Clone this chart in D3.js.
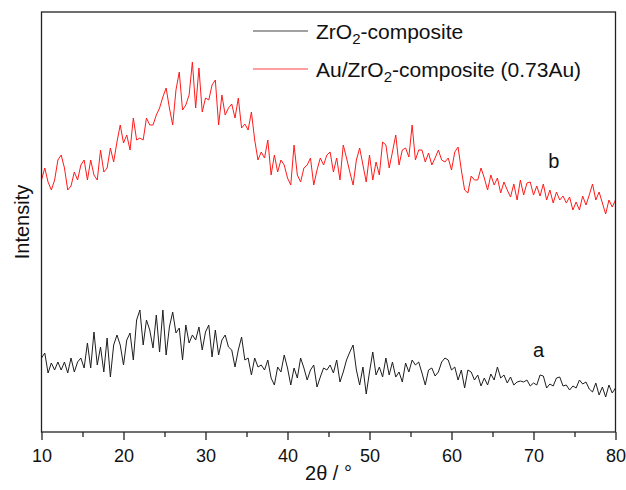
<!DOCTYPE html>
<html>
<head>
<meta charset="utf-8">
<script src="https://cdn.jsdelivr.net/npm/d3@7/dist/d3.min.js"></script>
<style>
  html, body { margin: 0; padding: 0; background: #fff; }
  svg { display: block; font-family: "Liberation Sans", Arial, sans-serif; }
</style>
</head>
<body>
<svg id="chart" width="626" height="490"></svg>
<script>
// XRD patterns, 2θ from 10° to 80° sampled every 0.4°
const thetaStart = 10;
const thetaStep = 0.4;

// a: ZrO2-composite (intensity, a.u., offset baseline)
const zro2Composite = [
  74,79,59,69,62,70,62,70,59,74,
  60,70,74,64,89,64,100,67,85,60,
  94,55,87,97,87,67,92,99,72,112,
  122,87,112,102,84,117,80,122,77,105,
  120,99,104,72,107,89,97,92,105,82,
  100,107,75,102,77,92,97,85,82,65,
  82,95,72,74,57,74,65,67,62,72,
  54,47,65,60,77,64,47,64,54,74,
  64,52,62,67,45,55,64,62,67,59,
  72,50,60,72,80,87,62,47,65,38,
  60,80,57,65,55,74,57,70,55,60,
  50,69,60,72,67,70,59,47,62,64,
  56,60,70,74,72,62,65,52,62,44,
  62,60,52,57,46,54,47,58,52,65,
  54,57,49,55,47,50,51,50,52,46,
  49,47,57,56,44,48,46,54,55,46,
  47,42,46,44,52,48,50,43,40,49,
  37,45,35,47,39,44
];

// b: Au/ZrO2-composite (0.73Au)
const auZro2Composite = [
  252,264,250,242,252,272,277,264,242,246,
  260,252,267,272,252,272,257,252,282,260,
  264,284,270,290,307,289,297,282,314,292,
  294,292,314,307,307,317,324,335,344,324,
  307,342,360,322,327,337,370,324,364,320,
  334,332,347,352,307,337,317,324,328,314,
  334,304,308,302,320,292,272,280,274,292,
  257,277,260,272,267,254,247,287,257,250,
  264,267,274,247,262,274,267,277,280,260,
  274,252,287,274,260,247,272,284,267,250,
  277,252,270,257,290,287,264,280,297,267,
  282,284,275,307,272,282,282,270,279,267,
  274,282,272,270,274,262,280,285,262,242,
  239,256,252,252,264,254,242,257,247,254,
  239,250,242,235,248,232,252,237,249,250,
  237,246,236,248,232,242,229,240,232,236,
  229,235,222,230,222,236,227,237,248,232,
  240,229,218,232,225,232
];

const majorTicks = [10, 20, 30, 40, 50, 60, 70, 80];
const minorTicks = [15, 25, 35, 45, 55, 65, 75];
const xTitle = "2θ / °";
const yTitle = "Intensity";

const svg = d3.select("#chart");
const plot = { left: 41.5, right: 615.5, top: 12, bottom: 432 };

const x = d3.scaleLinear().domain([10, 80]).range([plot.left, plot.right]);
const y = d3.scaleLinear().domain([0, 420]).range([plot.bottom, plot.top]);

const toPoints = arr => arr.map((v, i) => [thetaStart + i * thetaStep, v]);
const line = d3.line().x(d => x(d[0])).y(d => y(d[1]));

// traces
svg.append("path")
  .datum(toPoints(zro2Composite))
  .attr("d", line)
  .attr("fill", "none")
  .attr("stroke", "#1e1e1e")
  .attr("stroke-width", 1)
  .attr("stroke-linejoin", "round");

svg.append("path")
  .datum(toPoints(auZro2Composite))
  .attr("d", line)
  .attr("fill", "none")
  .attr("stroke", "#ff1a1a")
  .attr("stroke-width", 1)
  .attr("stroke-linejoin", "round");

// frame
svg.append("rect")
  .attr("x", plot.left).attr("y", plot.top)
  .attr("width", plot.right - plot.left)
  .attr("height", plot.bottom - plot.top)
  .attr("fill", "none")
  .attr("stroke", "#222")
  .attr("stroke-width", 1.3);

// bottom axis: major ticks with labels, minor ticks without
const xAxis = d3.axisBottom(x).tickValues(majorTicks).tickSize(8).tickPadding(9)
  .tickFormat(d3.format("d"));
const gx = svg.append("g").attr("transform", `translate(0,${plot.bottom})`).call(xAxis);
gx.select(".domain").remove();
gx.selectAll(".tick line").attr("stroke", "#222").attr("stroke-width", 1.3);
gx.selectAll(".tick text").attr("font-size", 18).attr("fill", "#111")
  .attr("font-family", "'Liberation Sans', Arial, sans-serif");

const xMinor = d3.axisBottom(x).tickValues(minorTicks).tickSize(5).tickFormat("");
const gxm = svg.append("g").attr("transform", `translate(0,${plot.bottom})`).call(xMinor);
gxm.select(".domain").remove();
gxm.selectAll(".tick line").attr("stroke", "#222").attr("stroke-width", 1.3);

// axis titles
svg.append("text")
  .attr("x", (plot.left + plot.right) / 2)
  .attr("y", 480)
  .attr("text-anchor", "middle")
  .attr("font-size", 20)
  .attr("fill", "#111")
  .text(xTitle);

svg.append("text")
  .attr("transform", `translate(29,${(plot.top + plot.bottom) / 2}) rotate(-90)`)
  .attr("text-anchor", "middle")
  .attr("font-size", 20)
  .attr("fill", "#111")
  .text(yTitle);

// legend
const legend = svg.append("g");
const legendItems = [
  { color: "#444", parts: ["ZrO", "2", "-composite"], y: 31 },
  { color: "#ff4040", parts: ["Au/ZrO", "2", "-composite (0.73Au)"], y: 69 }
];
legendItems.forEach(it => {
  legend.append("line")
    .attr("x1", 253).attr("x2", 308)
    .attr("y1", it.y).attr("y2", it.y)
    .attr("stroke", it.color).attr("stroke-width", 1.2);
  const t = legend.append("text")
    .attr("x", 316).attr("y", it.y + 7.5)
    .attr("font-size", 21).attr("fill", "#111");
  t.append("tspan").text(it.parts[0]);
  t.append("tspan").attr("font-size", 15).attr("dy", 5).text(it.parts[1]);
  t.append("tspan").attr("dy", -5).text(it.parts[2]);
});

// curve labels
svg.append("text")
  .attr("x", x(71.8)).attr("y", y(264))
  .attr("font-size", 20).attr("fill", "#111")
  .text("b");
svg.append("text")
  .attr("x", x(69.95)).attr("y", y(75))
  .attr("font-size", 20).attr("fill", "#111")
  .text("a");
</script>
</body>
</html>
